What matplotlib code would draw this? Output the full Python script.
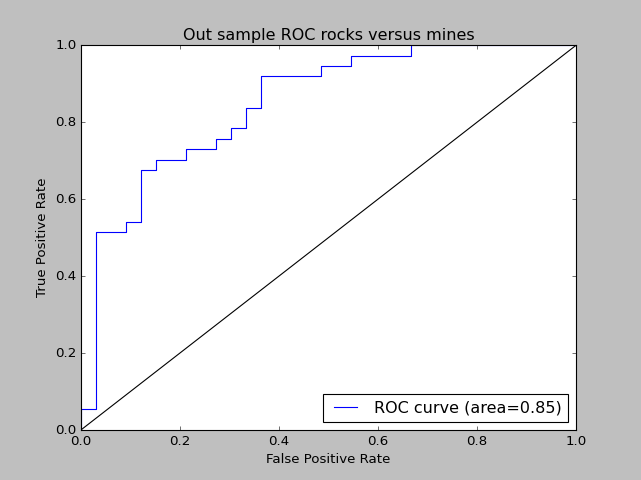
import matplotlib
matplotlib.use("Agg")
from matplotlib import pyplot as plt

# ROC curve points
fpr = [0.0, 0.0, 0.0303, 0.0303, 0.0909, 0.0909, 0.1212, 0.1212, 0.1515, 0.1515,
       0.2121, 0.2121, 0.2727, 0.2727, 0.3030, 0.3030, 0.3333, 0.3333, 0.3636, 0.3636,
       0.4848, 0.4848, 0.5455, 0.5455, 0.6667, 0.6667, 1.0]
tpr = [0.0, 0.0541, 0.0541, 0.5135, 0.5135, 0.5405, 0.5405, 0.6757, 0.6757, 0.7027,
       0.7027, 0.7297, 0.7297, 0.7568, 0.7568, 0.7838, 0.7838, 0.8378, 0.8378, 0.9189,
       0.9189, 0.9459, 0.9459, 0.9730, 0.9730, 1.0, 1.0]
roc_auc = 0.85

plt.style.use('classic')
fig = plt.figure(figsize=(641 / 80, 6), dpi=80, facecolor='0.75')
fig.subplots_adjust(left=0.126, right=0.899, bottom=0.104, top=0.906)
plt.plot(fpr, tpr, label='ROC curve (area=%0.2f)' % roc_auc)
plt.plot([0, 1], [0, 1], 'k-')
plt.xlim([0.0, 1.0])
plt.ylim([0.0, 1.0])
plt.xlabel('False Positive Rate')
plt.ylabel('True Positive Rate')
plt.title('Out sample ROC rocks versus mines')
plt.legend(loc="lower right")
plt.savefig('out.png', dpi=80, facecolor=fig.get_facecolor())
